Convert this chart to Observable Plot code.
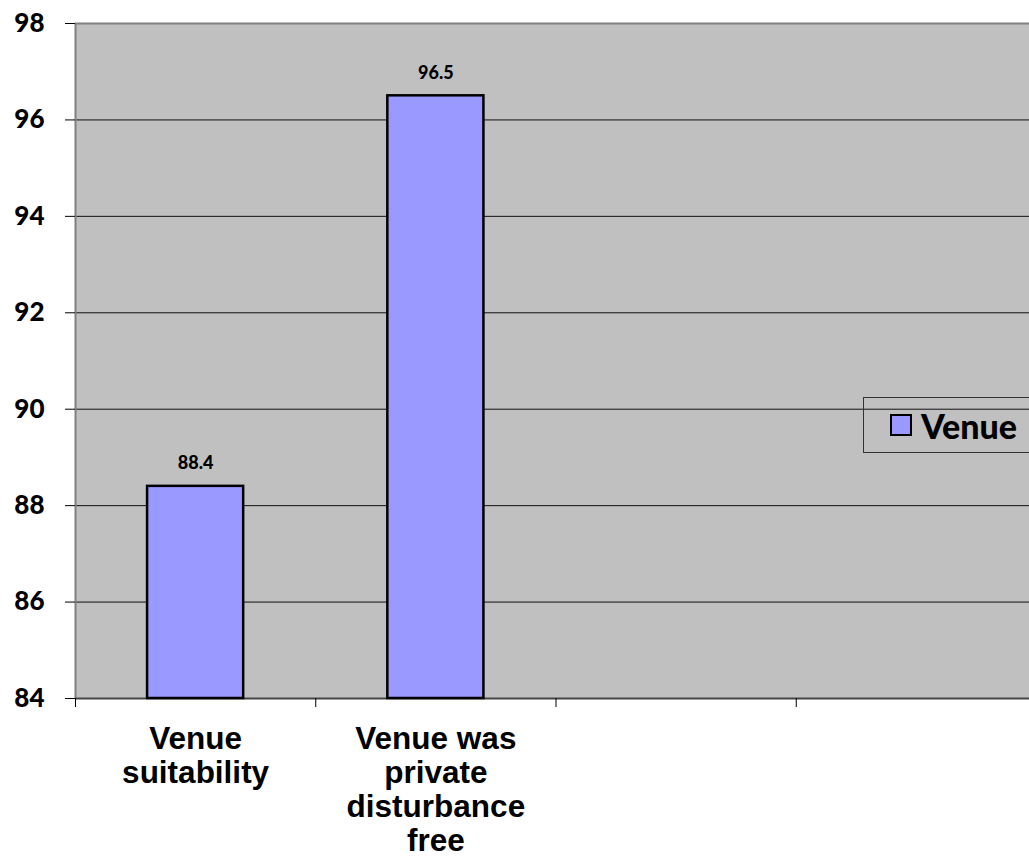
<!DOCTYPE html>
<html>
<head>
<meta charset="utf-8">
<script src="https://cdn.jsdelivr.net/npm/d3@7"></script>
<script src="https://cdn.jsdelivr.net/npm/@observablehq/plot@0.6"></script>
<style>
  html, body { margin: 0; padding: 0; background: #fff; overflow: hidden; }
  #chart { position: relative; width: 1029px; height: 859px; }
  #chart svg [aria-label="y-axis tick label"] {
    font-family: Lato, "Open Sans", sans-serif; font-weight: 900; font-size: 26px; fill: #000;
  }
  #chart svg .bar-value { font-family: Lato, "Open Sans", sans-serif; font-weight: 900; }
  #chart svg .cat-label { font-family: "Liberation Sans", Arial, sans-serif; font-weight: bold; }
  #legend {
    position: absolute; left: 863px; top: 397px; width: 180px; height: 56px;
    border: 1px solid #333; box-sizing: border-box;
    display: flex; align-items: center; padding-left: 26px;
    font-family: Lato, "Open Sans", sans-serif; font-weight: 900; font-size: 34px; color: #000;
  }
  #legend .swatch {
    width: 22px; height: 22px; box-sizing: border-box; background: #9999ff;
    border: 2px solid #000; margin-right: 9px;
  }
</style>
</head>
<body>
<div id="chart"></div>
<script>
// Survey results for the venue questions
const categories = ["Venue\nsuitability", "Venue was\nprivate\ndisturbance\nfree"];
const values = [88.4, 96.5];
const seriesName = "Venue";
const slotCount = 4;                       // category slots on the x axis
const yTicks = [84, 86, 88, 90, 92, 94, 96, 98];

const data = categories.map((c, i) => ({i, label: c, value: values[i]}));
const yMin = yTicks[0], yMax = yTicks[yTicks.length - 1];

const chart = Plot.plot({
  width: 1029,
  height: 859,
  marginLeft: 75,
  marginTop: 23,
  marginBottom: 161,
  marginRight: 0,
  x: {type: "linear", domain: [0, slotCount], range: [75, 1036], axis: null},
  y: {domain: [yMin, yMax], axis: null},
  marks: [
    Plot.frame({fill: "#c0c0c0", stroke: null}),
    Plot.gridY(yTicks.slice(1, -1), {stroke: "#111", strokeOpacity: 1, strokeWidth: 1}),
    Plot.ruleY([yMax], {stroke: "#808080", strokeWidth: 2}),
    Plot.ruleX([0], {stroke: "#808080", strokeWidth: 2}),
    Plot.ruleY([yMin], {stroke: "#444", strokeWidth: 2}),
    Plot.axisY(yTicks, {
      label: null, tickSize: 10, tickPadding: 21, stroke: "#000",
      fontSize: 26, fontWeight: 900, fill: "#000"
    }),
    Plot.axisX(d3.range(slotCount + 1), {label: null, tickSize: 9, tickFormat: () => "", stroke: "#000"}),
    Plot.rectY(data, {
      x1: d => d.i + 0.3, x2: d => d.i + 0.7, y1: () => yMin, y2: "value",
      fill: "#9999ff", stroke: "#000", strokeWidth: 2.5
    }),
    Plot.text(data, {
      x: d => d.i + 0.5, y: "value", text: d => d.value.toFixed(1), dy: -23,
      fontSize: 18, fontWeight: 900, fill: "#000", className: "bar-value"
    }),
    Plot.text(data, {
      x: d => d.i + 0.5, y: () => yMin, text: "label", lineAnchor: "top", dy: 26,
      lineHeight: 1.08, fontSize: 31.5, fontWeight: "bold", fill: "#000", className: "cat-label"
    })
  ]
});

const root = document.getElementById("chart");
root.appendChild(chart);
const legend = document.createElement("div");
legend.id = "legend";
legend.innerHTML = `<span class="swatch"></span><span></span>`;
legend.lastChild.textContent = seriesName;
root.appendChild(legend);
</script>
</body>
</html>
